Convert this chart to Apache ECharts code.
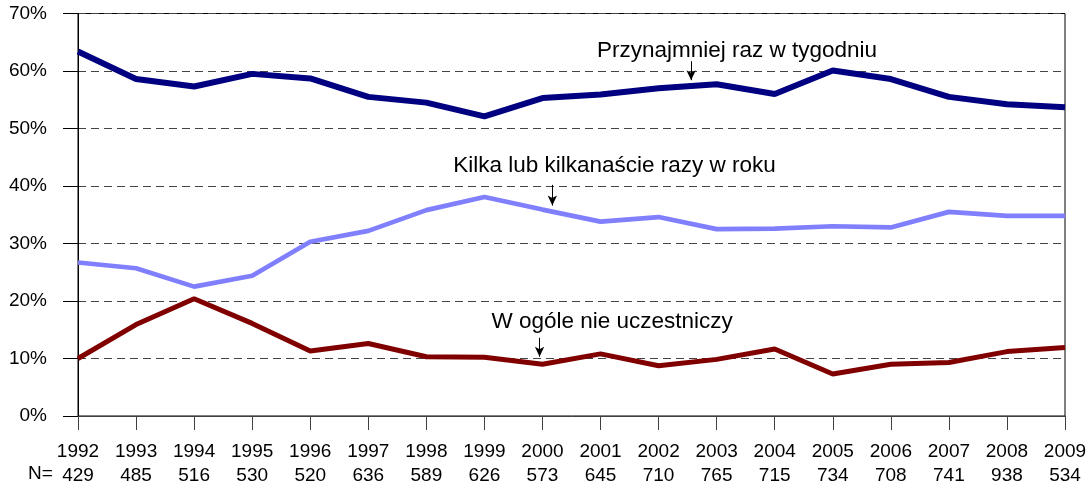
<!DOCTYPE html>
<html><head><meta charset="utf-8">
<script src="https://cdn.jsdelivr.net/npm/echarts@6/dist/echarts.min.js"></script>
<style>html,body{margin:0;padding:0;background:#fff}#c{width:1091px;height:488px}</style>
</head><body><div id="c"></div>
<script>
var years = [1992,1993,1994,1995,1996,1997,1998,1999,2000,2001,2002,2003,2004,2005,2006,2007,2008,2009];
var nValues = [429,485,516,530,520,636,589,626,573,645,710,765,715,734,708,741,938,534];
var weekly = [63.4,58.6,57.3,59.5,58.7,55.5,54.5,52.1,55.3,55.9,57.0,57.7,56.0,60.1,58.6,55.5,54.2,53.7];
var fewTimes = [26.7,25.7,22.5,24.4,30.3,32.2,35.8,38.1,35.9,33.8,34.6,32.5,32.6,33.0,32.8,35.5,34.8,34.8];
var never = [10.0,15.9,20.4,16.1,11.3,12.6,10.3,10.2,9.0,10.8,8.75,9.85,11.65,7.3,9.0,9.3,11.2,11.9];
var yTicks = [0,10,20,30,40,50,60,70];

// annotations: text position (year, %), arrow start, arrow end
var annWeekly = {text:'Przynajmniej raz w tygodniu', pos:[2003.35,63.6], from:[2002.56,61.7], to:[2002.56,58.4]};
var annFew = {text:'Kilka lub kilkanaście razy w roku', pos:[2001.24,43.6], from:[2000.17,40.2], to:[2000.17,36.6]};
var annNever = {text:'W ogóle nie uczestniczy', pos:[2001.2,16.4], from:[1999.95,13.6], to:[1999.95,10.3]};

var font = 'Liberation Sans, Arial, sans-serif';
function pairs(arr){ return years.map(function(y,i){ return [y, arr[i]]; }); }
function ann(a){
  return {
    markLine: {silent:true, symbol:['none','arrow'], symbolSize:[7,10], animation:false,
      lineStyle:{color:'#000', width:1, type:'solid'}, label:{show:false},
      data:[[{coord:a.from},{coord:a.to}]]},
    markPoint: {silent:true, symbol:'circle', symbolSize:0, animation:false,
      label:{show:true, position:'inside', formatter:a.text, color:'#000', fontSize:22.5, fontFamily:font},
      data:[{coord:a.pos}]}
  };
}
var chart = echarts.init(document.getElementById('c'));
var s1 = Object.assign({type:'line', data:pairs(weekly), showSymbol:false, lineStyle:{color:'#000080', width:6}, itemStyle:{color:'#000080'}, z:3}, ann(annWeekly));
var s2 = Object.assign({type:'line', data:pairs(fewTimes), showSymbol:false, lineStyle:{color:'#8080FF', width:4.7}, itemStyle:{color:'#8080FF'}, z:3}, ann(annFew));
var s3 = Object.assign({type:'line', data:pairs(never), showSymbol:false, lineStyle:{color:'#800000', width:5}, itemStyle:{color:'#800000'}, z:3}, ann(annNever));
chart.setOption({
  animation:false,
  backgroundColor:'#fff',
  grid:{left:78, right:26, top:13.5, bottom:72, show:true, borderColor:'#000', borderWidth:1, outerBoundsMode:'none'},
  xAxis:{type:'value', min:years[0], max:years[years.length-1], interval:1,
    axisLine:{show:true, lineStyle:{color:'#404040', width:1}},
    axisTick:{show:true, length:14, lineStyle:{color:'#404040'}},
    splitLine:{show:false},
    axisLabel:{margin:24, color:'#000', fontSize:19, fontFamily:font, lineHeight:24,
      formatter:function(v){ var i = years.indexOf(v); return i<0?'':(v+'\n'+nValues[i]); }}
  },
  yAxis:{type:'value', min:yTicks[0], max:yTicks[yTicks.length-1], interval:10,
    axisLine:{show:true, lineStyle:{color:'#000', width:1}},
    axisTick:{show:true, length:15, lineStyle:{color:'#000'}},
    splitLine:{show:true, lineStyle:{color:'#444', type:[8,5], width:1}},
    axisLabel:{margin:31, color:'#000', fontSize:19, fontFamily:font, formatter:function(v){return v+'%';}}
  },
  graphic:[{type:'text', left:28, top:464, style:{text:'N=', fontSize:19, fontFamily:font, fill:'#000'}}],
  series:[s1,s2,s3]
});
</script></body></html>
